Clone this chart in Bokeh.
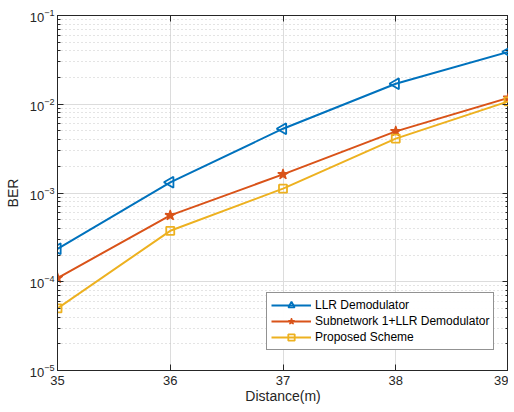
import numpy as np
from bokeh.plotting import figure
from bokeh.models import LogAxis, LinearAxis, Range1d, FixedTicker, LogTicker, Legend, LegendItem, CustomJSTickFormatter, LogTickFormatter
from bokeh.embed import file_html
from bokeh.resources import INLINE

distance = [35, 36, 37, 38, 39]
llr = [2.35e-4, 1.32e-3, 5.3e-3, 1.7e-2, 3.9e-2]
subnet = [1.1e-4, 5.6e-4, 1.62e-3, 4.95e-3, 1.18e-2]
proposed = [5.0e-5, 3.75e-4, 1.12e-3, 4.1e-3, 1.08e-2]
names = ["LLR Demodulator", "Subnetwork 1+LLR Demodulator", "Proposed Scheme"]
colors = ["#0072BD", "#D95319", "#EDB120"]

FONT = "Liberation Sans"

p = figure(width=508, height=406, y_axis_type="log", output_backend="svg",
           toolbar_location=None, x_range=Range1d(35, 39), y_range=Range1d(1e-5, 1e-1),
           min_border_left=57, min_border_right=0, min_border_top=15, min_border_bottom=30)
p.outline_line_color = "#262626"
p.outline_line_width = 1
p.background_fill_color = "white"
p.border_fill_color = "white"

p.xaxis.ticker = FixedTicker(ticks=distance)
p.yaxis.ticker = LogTicker(num_minor_ticks=10)
p.yaxis.formatter = LogTickFormatter()
for ax in [p.xaxis[0], p.yaxis[0]]:
    ax.major_tick_in = 6
    ax.major_tick_out = 0
    ax.minor_tick_in = 3
    ax.minor_tick_out = 0
    ax.axis_line_color = "#262626"
    ax.major_tick_line_color = "#262626"
    ax.minor_tick_line_color = "#262626"
    ax.major_label_text_font = FONT
    ax.major_label_text_font_size = "13px"
    ax.major_label_text_color = "#262626"
    ax.axis_label_text_font = FONT
    ax.axis_label_text_font_size = "14px"
    ax.axis_label_text_font_style = "normal"
    ax.axis_label_text_color = "#262626"
p.xaxis.axis_label = "Distance(m)"
p.yaxis.axis_label = "BER"
p.xaxis.axis_label_standoff = 0
p.yaxis.axis_label_standoff = 6
p.xaxis.major_label_standoff = 5
p.yaxis.major_label_standoff = 3

# right and top box axes (ticks only)
ra = LogAxis(ticker=LogTicker(num_minor_ticks=10), formatter=CustomJSTickFormatter(code="return ''"),
             major_tick_in=6, major_tick_out=0, minor_tick_in=3, minor_tick_out=0,
             major_label_standoff=0, major_label_text_font_size="2px",
             axis_line_color="#262626", major_tick_line_color="#262626", minor_tick_line_color="#262626")
ta = LinearAxis(ticker=FixedTicker(ticks=distance), formatter=CustomJSTickFormatter(code="return ''"),
                major_tick_in=6, major_tick_out=0, minor_tick_in=0, minor_tick_out=0,
                major_label_standoff=0, major_label_text_font_size="2px",
                axis_line_color="#262626", major_tick_line_color="#262626")
p.add_layout(ra, "right")
p.add_layout(ta, "above")

p.xgrid.grid_line_color = "#dcdcdc"
p.xgrid.ticker = FixedTicker(ticks=distance)
p.ygrid.grid_line_color = "#dcdcdc"
p.ygrid.minor_grid_line_color = "#c8c8c8"
p.ygrid.minor_grid_line_dash = "1 3"

items = []
series = [llr, subnet, proposed]
for i, (vals, name, c) in enumerate(zip(series, names, colors)):
    l = p.line(distance, vals, line_color=c, line_width=2)
    if i == 0:
        m = p.scatter(distance, vals, marker="triangle", angle=np.pi / 2, size=11,
                      line_color=c, fill_color=None, line_width=1.8)
    elif i == 1:
        m = p.scatter(distance, vals, marker="star", size=11,
                      line_color=c, fill_color=c, line_width=1.2)
    else:
        m = p.scatter(distance, vals, marker="square", size=8,
                      line_color=c, fill_color=None, line_width=1.8)
    items.append(LegendItem(label=name, renderers=[l, m]))

leg = Legend(items=items)
leg.label_text_font = FONT
leg.label_text_font_size = "12px"
leg.label_text_color = "#000000"
leg.border_line_color = "#262626"
leg.border_line_width = 1
leg.glyph_width = 40
leg.glyph_height = 16
leg.label_height = 16
leg.spacing = 0
leg.padding = 4
leg.margin = 0
leg.label_standoff = 4
leg.location = (209, 20)
p.add_layout(leg, "center")

open("out.html", "w").write(file_html(p, INLINE))
